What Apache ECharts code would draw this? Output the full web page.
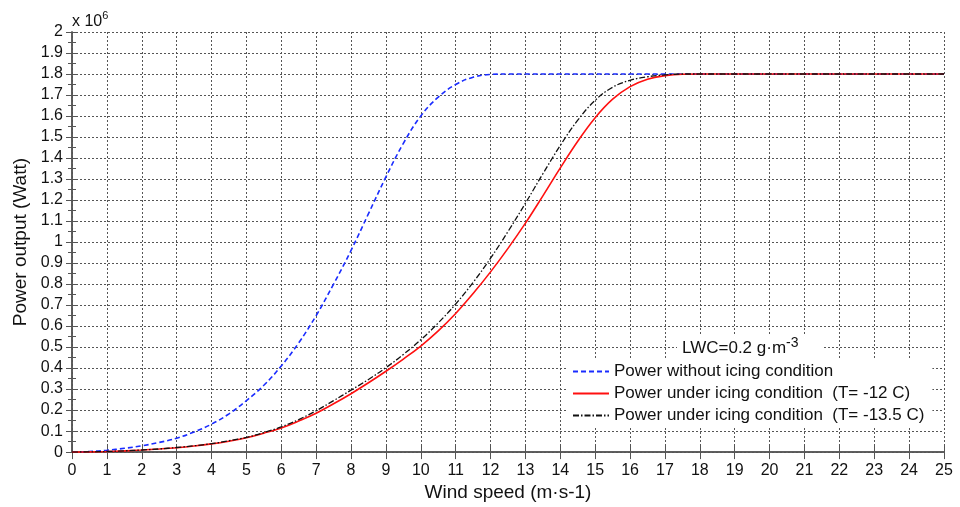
<!DOCTYPE html>
<html>
<head>
<meta charset="utf-8">
<title>Power curve under icing</title>
<script src="https://cdn.jsdelivr.net/npm/echarts@6/dist/echarts.min.js"></script>
<style>
  html, body { margin: 0; padding: 0; background: #fff; }
  #chart { width: 960px; height: 507px; }
</style>
</head>
<body>
<div id="chart"></div>
<script>
// Wind speed samples (m/s)
const speeds = [0,0.5,1,1.5,2,2.5,3,3.5,4,4.5,5,5.5,6,6.5,7,7.5,8,8.5,9,9.5,10,10.5,11,11.5,12,12.5,13,13.5,14,14.5,15,15.5,16,16.5,17,17.5,18,19,20,21,22,23,24,25];

// Power output, in units of 10^6 W
const powerNoIce = [0,0.003,0.009,0.018,0.03,0.046,0.066,0.096,0.133,0.182,
  0.245,0.318,0.41,0.52,0.65,0.8,0.96,1.135,1.31,1.47,
  1.6,1.69,1.75,1.785,1.798,1.8,1.8,1.8,1.8,1.8,
  1.8,1.8,1.8,1.8,1.8,1.8,1.8,
  1.8,1.8,1.8,1.8,1.8,1.8,1.8];
const powerIce12 = [0,0.001,0.003,0.006,0.01,0.015,0.021,0.029,0.039,0.052,
  0.068,0.09,0.115,0.148,0.185,0.23,0.278,0.33,0.385,0.443,
  0.505,0.577,0.66,0.755,0.858,0.97,1.09,1.22,1.353,1.48,
  1.592,1.68,1.74,1.775,1.792,1.799,1.8,
  1.8,1.8,1.8,1.8,1.8,1.8,1.8];
const powerIce135 = [0,0.001,0.003,0.006,0.01,0.015,0.022,0.03,0.04,0.054,
  0.07,0.093,0.12,0.155,0.197,0.245,0.295,0.346,0.402,0.465,
  0.535,0.615,0.705,0.808,0.923,1.05,1.185,1.325,1.46,1.58,
  1.675,1.737,1.77,1.787,1.796,1.8,1.8,
  1.8,1.8,1.8,1.8,1.8,1.8,1.8];

const seriesNames = [
  'Power without icing condition',
  'Power under icing condition  (T= -12 C)',
  'Power under icing condition  (T= -13.5 C)'
];
const xTitle = 'Wind speed (m\u00B7s-1)';
const yTitle = 'Power output (Watt)';

const FONT = 'Liberation Sans, Arial, sans-serif';
const pairs = ys => speeds.map((x, i) => [x, ys[i]]);

const frame = { show: true, lineStyle: { color: '#555', width: 1.5 } };
const grid = { type: [2, 2], color: '#555', width: 1 };

const chart = echarts.init(document.getElementById('chart'), null, { renderer: 'canvas' });

chart.setOption({
  animation: false,
  backgroundColor: '#fff',
  textStyle: { fontFamily: FONT },
  grid: { left: 72, right: 16, top: 32, bottom: 53 },
  xAxis: [
    {
      type: 'value', min: 0, max: 25, interval: 1, position: 'bottom',
      axisLine: frame,
      axisTick: { inside: true, length: 7, lineStyle: { color: '#555' } },
      axisLabel: { fontSize: 16, color: '#111', margin: 10, fontFamily: FONT },
      splitLine: { show: true, lineStyle: grid },
      name: xTitle, nameLocation: 'middle', nameGap: 28,
      nameTextStyle: { fontSize: 19, color: '#111', fontFamily: FONT }
    },
    {
      type: 'value', min: 0, max: 25, interval: 1, position: 'top',
      axisLine: frame,
      axisTick: { inside: true, length: 7, lineStyle: { color: '#555' } },
      axisLabel: { show: false },
      splitLine: { show: false }
    }
  ],
  yAxis: [
    {
      type: 'value', min: 0, max: 2, interval: 0.1, position: 'left',
      axisLine: frame,
      axisTick: { inside: true, length: 6, lineStyle: { color: '#555' } },
      minorTick: { show: true, splitNumber: 2, length: 4, lineStyle: { color: '#555' } },
      axisLabel: {
        fontSize: 16, color: '#111', margin: 9, fontFamily: FONT,
        formatter: v => String(parseFloat(v.toFixed(1)))
      },
      splitLine: { show: true, lineStyle: grid },
      name: yTitle, nameLocation: 'middle', nameGap: 38,
      nameTextStyle: { fontSize: 19, color: '#111', fontFamily: FONT }
    },
    {
      type: 'value', min: 0, max: 2, interval: 0.1, position: 'right',
      axisLine: frame,
      axisTick: { inside: true, length: 6, lineStyle: { color: '#555' } },
      minorTick: { show: true, splitNumber: 2, length: 4, lineStyle: { color: '#555' } },
      axisLabel: { show: false },
      splitLine: { show: false }
    }
  ],
  legend: {
    orient: 'vertical',
    left: 568, top: 360,
    itemWidth: 36, itemHeight: 14, itemGap: 5,
    padding: [3, 8, 3, 4],
    backgroundColor: '#fff',
    itemStyle: { opacity: 0, color: 'transparent', borderWidth: 0 },
    textStyle: { fontSize: 17, color: '#111', fontFamily: FONT, lineHeight: 16 },
    data: seriesNames
  },
  graphic: [
    {
      type: 'text', left: 72, top: 10, z: 10,
      style: {
        text: '{a|x 10}{s|6}',
        rich: {
          a: { fontSize: 16, fill: '#111', fontFamily: FONT, lineHeight: 20, verticalAlign: 'bottom' },
          s: { fontSize: 11, fill: '#111', fontFamily: FONT, lineHeight: 12, verticalAlign: 'top' }
        }
      }
    },
    {
      type: 'text', left: 677, top: 335, z: 10,
      style: {
        text: '{a|LWC=0.2 g\u00B7m}{s|-3}',
        backgroundColor: '#fff',
        padding: [1, 24, 1, 5],
        rich: {
          a: { fontSize: 17, fill: '#111', fontFamily: FONT, lineHeight: 21, verticalAlign: 'bottom' },
          s: { fontSize: 14, fill: '#111', fontFamily: FONT, lineHeight: 14, verticalAlign: 'top' }
        }
      }
    }
  ],
  series: [
    {
      name: seriesNames[0], type: 'line', data: pairs(powerNoIce),
      showSymbol: false, symbol: 'none', smooth: 0.4,
      lineStyle: { color: '#1a2cff', width: 1.6, type: [5, 3] },
      itemStyle: { color: '#1a2cff' }
    },
    {
      name: seriesNames[1], type: 'line', data: pairs(powerIce12),
      showSymbol: false, symbol: 'none', smooth: 0.4,
      lineStyle: { color: '#ff1010', width: 1.6, type: 'solid' },
      itemStyle: { color: '#ff1010' }
    },
    {
      name: seriesNames[2], type: 'line', data: pairs(powerIce135),
      showSymbol: false, symbol: 'none', smooth: 0.4,
      lineStyle: { color: '#111', width: 1.3, type: [6, 2, 1.5, 2] },
      itemStyle: { color: '#111' }
    }
  ]
});
</script>
</body>
</html>
